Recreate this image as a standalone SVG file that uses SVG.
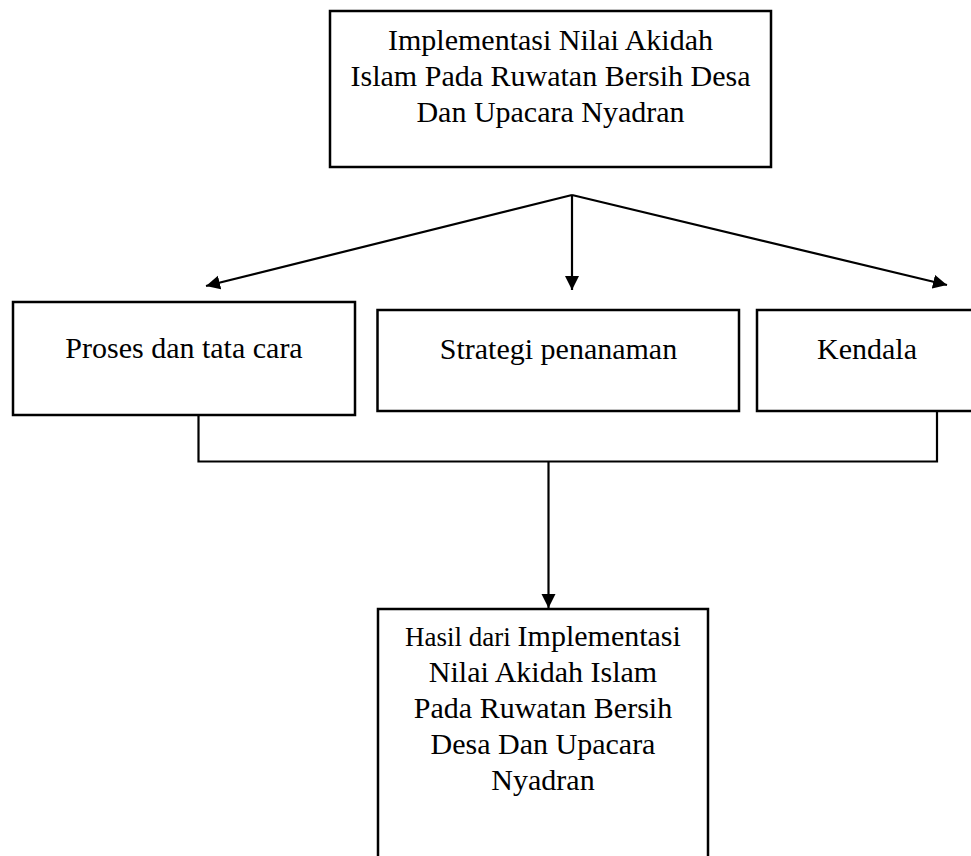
<svg xmlns="http://www.w3.org/2000/svg" width="971" height="856" viewBox="0 0 971 856">
<style>
.box{fill:#fff;stroke:#000;stroke-width:2.5}
.t{font-family:"Liberation Serif","Times New Roman",serif;font-size:30px;fill:#000;text-anchor:middle}
.ln{fill:none;stroke:#000;stroke-width:2.2}
</style>
<defs>
<marker id="ah" markerUnits="userSpaceOnUse" markerWidth="15" markerHeight="15" refX="14" refY="7" orient="auto">
<path d="M0,0 L14,7 L0,14 z" fill="#000"/>
</marker>
</defs>
<rect width="971" height="856" fill="#fff"/>
<g id="connectors">
<line class="ln" x1="572" y1="195" x2="206" y2="286" marker-end="url(#ah)"/>
<line class="ln" x1="572" y1="195" x2="572" y2="290" marker-end="url(#ah)"/>
<line class="ln" x1="572" y1="195" x2="947" y2="285" marker-end="url(#ah)"/>
<polyline class="ln" points="198.5,415 198.5,461.5 937,461.5 937,411"/>
<line class="ln" x1="548.5" y1="461.5" x2="548.5" y2="608" marker-end="url(#ah)"/>
</g>
<g id="node-top">
<rect class="box" x="330" y="11" width="441" height="156"/>
<text class="t" x="550.5" y="50">Implementasi Nilai Akidah</text>
<text class="t" x="550.5" y="86">Islam Pada Ruwatan Bersih Desa</text>
<text class="t" x="550.5" y="122">Dan Upacara Nyadran</text>
</g>
<g id="node-proses">
<rect class="box" x="13" y="302" width="342" height="113"/>
<text class="t" x="184" y="358">Proses dan tata cara</text>
</g>
<g id="node-strategi">
<rect class="box" x="377.5" y="310" width="361.5" height="101"/>
<text class="t" x="558.5" y="359">Strategi penanaman</text>
</g>
<g id="node-kendala">
<rect class="box" x="757" y="310" width="230" height="101"/>
<text class="t" x="867" y="359">Kendala</text>
</g>
<g id="node-hasil">
<rect class="box" x="378" y="609" width="330" height="270"/>
<text class="t" x="543" y="646"><tspan font-size="27">Hasil dari </tspan>Implementasi</text>
<text class="t" x="543" y="682">Nilai Akidah Islam</text>
<text class="t" x="543" y="718">Pada Ruwatan Bersih</text>
<text class="t" x="543" y="754">Desa Dan Upacara</text>
<text class="t" x="543" y="790">Nyadran</text>
</g>
</svg>
